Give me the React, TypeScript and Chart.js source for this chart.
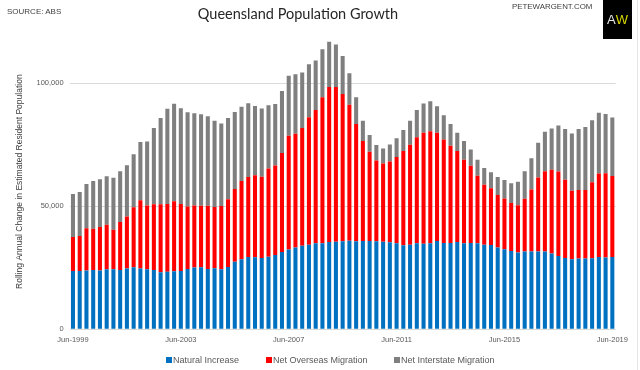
import React, { useEffect, useRef } from "react";
import { Chart, registerables } from "chart.js";

Chart.register(...registerables);

// Quarterly rolling annual change, Jun-1999 .. Jun-2019
const NATURAL = [
  23700, 23700, 23850, 24100, 23850, 24400, 24400, 24100, 24700, 25200,
  24700, 24400, 24100, 23200, 23400, 23600, 23700, 24500, 25100, 25200,
  24500, 24800, 24400, 25300, 27500, 28450, 29400, 29250, 29000, 29500,
  30200, 31400, 32400, 33200, 34000, 34400, 34950, 34950, 35500, 35600,
  35750, 36000, 35750, 35900, 35900, 35750, 35600, 35350, 34950, 34150,
  34400, 35000, 34800, 34950, 35900, 35100, 35100, 35500, 34950, 35100,
  34950, 34400, 34280, 33200, 32520, 31840, 31170, 31570, 31570, 31570,
  31570, 30760, 29810, 29000, 28460, 28730, 28730, 28860, 29400, 29130, 29400,
];

const OVERSEAS = [
  13800, 14200, 17200, 16800, 17700, 18100, 16100, 19500, 21100, 24400,
  27700, 25900, 26700, 27600, 27500, 28400, 27200, 25400, 25200, 25000,
  25700, 24900, 25700, 27500, 29500, 31800, 32500, 33400, 33000, 35800,
  36400, 40200, 46300, 46300, 47800, 51800, 54200, 59300, 63000, 62900,
  59900, 55200, 47700, 40600, 36300, 32800, 31800, 32800, 35100, 38300,
  40600, 43000, 45100, 45500, 44000, 42000, 39500, 37000, 34000, 31400,
  27400, 24300, 23000, 21400, 20600, 19500, 19200, 21500, 25200, 30100,
  32700, 34100, 34300, 31800, 27800, 27900, 27900, 30900, 33900, 34300, 32900,
];

const INTERSTATE = [
  17500, 17900, 18000, 19400, 19400, 19700, 21100, 20600, 20900, 21500,
  23700, 26000, 31000, 35100, 38700, 39700, 38900, 38300, 37500, 37200,
  36400, 35000, 33500, 33100, 31300, 30200, 30000, 28100, 27700, 25700,
  25000, 25200, 24300, 24100, 22600, 21500, 20100, 19600, 18300, 17200,
  15400, 12800, 10800, 8200, 6800, 6300, 6100, 6900, 7600, 8500,
  9700, 11100, 11900, 12200, 10700, 9900, 8800, 7400, 7600, 6600,
  6600, 6800, 6500, 7300, 7600, 8000, 9600, 11200, 12700, 14100,
  16000, 16700, 18700, 20600, 23300, 24800, 25600, 25200, 24700, 24100, 23800,
];

const QUARTER_MONTHS = ["Jun", "Sep", "Dec", "Mar"];
const FIRST_YEAR = 1999;
const TICK_EVERY = 16;
const Y_TICKS = [0, 50000, 100000];
const SERIES_NAMES = ["Natural Increase", "Net Overseas Migration", "Net Interstate Migration"];
const SERIES_COLORS = ["#0070C0", "#FF0000", "#7F7F7F"];

const CATEGORIES = NATURAL.map(
  (_, i) => `${QUARTER_MONTHS[i % 4]}-${FIRST_YEAR + Math.floor((i + 1) / 4)}`
);

const FONT = "'Liberation Sans', Arial, sans-serif";

export default function App() {
  const ref = useRef<HTMLCanvasElement | null>(null);

  useEffect(() => {
    document.body.style.margin = "0";
    const canvas = ref.current;
    if (!canvas) return;
    const chart = new Chart(canvas, {
      type: "bar",
      data: {
        labels: CATEGORIES,
        datasets: [NATURAL, OVERSEAS, INTERSTATE].map((d, k) => ({
          label: SERIES_NAMES[k],
          data: d,
          backgroundColor: SERIES_COLORS[k],
          borderWidth: 0,
          barPercentage: 0.6,
          categoryPercentage: 1.0,
          stack: "s",
        })),
      },
      options: {
        responsive: false,
        animation: false,
        devicePixelRatio: 1,
        layout: { padding: { top: 34, right: 24.3, left: 0, bottom: 0 } },
        plugins: {
          legend: { display: false },
          title: { display: false },
          tooltip: { enabled: false },
        },
        scales: {
          x: {
            stacked: true,
            grid: { display: false, drawTicks: false },
            border: { display: false },
            ticks: {
              autoSkip: false,
              maxRotation: 0,
              minRotation: 0,
              padding: 6,
              color: "#595959",
              font: { family: FONT, size: 7.5 },
              callback: (v: any, i: number) => (i % TICK_EVERY === 0 ? CATEGORIES[i] : ""),
            },
            afterFit: (s: any) => {
              s.height = 40.7;
            },
          },
          y: {
            stacked: true,
            min: 0,
            max: 120000,
            afterBuildTicks: (s: any) => {
              s.ticks = Y_TICKS.map((v) => ({ value: v }));
            },
            grid: { color: "#d9d9d9", drawTicks: false, lineWidth: 1 },
            border: { display: false },
            ticks: {
              padding: 6,
              color: "#595959",
              font: { family: FONT, size: 7.5 },
              callback: (v: any) => Number(v).toLocaleString("en-US"),
            },
            title: {
              display: true,
              text: "Rolling Annual Change in Estimated Resident Population",
              color: "#404040",
              font: { family: FONT, size: 8.5 },
              padding: { top: 15, bottom: 0 },
            },
            afterFit: (s: any) => {
              s.width = 69.6;
            },
          },
        },
      },
    });
    return () => chart.destroy();
  }, []);

  const legendItems = [
    { box: 166, text: 173 },
    { box: 266, text: 273 },
    { box: 394, text: 401 },
  ];

  return (
    <div style={{ position: "relative", width: 640, height: 370, background: "#fff", overflow: "hidden" }}>
      <canvas ref={ref} width={640} height={370} style={{ position: "absolute", left: 0, top: 0 }} />
      <div
        style={{
          position: "absolute",
          left: 298,
          top: 7,
          transform: "translateX(-50%)",
          whiteSpace: "nowrap",
          fontFamily: "Lato, 'Liberation Sans', sans-serif",
          fontSize: 14.5,
          lineHeight: 1,
          color: "#262626",
        }}
      >
        Queensland Population Growth
      </div>
      <div style={{ position: "absolute", left: 7, top: 8, fontFamily: FONT, fontSize: 8, lineHeight: 1, color: "#404040", whiteSpace: "nowrap" }}>
        SOURCE: ABS
      </div>
      <div style={{ position: "absolute", left: 512, top: 3, fontFamily: FONT, fontSize: 7.9, lineHeight: 1, color: "#404040", whiteSpace: "nowrap" }}>
        PETEWARGENT.COM
      </div>
      <div
        style={{
          position: "absolute",
          left: 603,
          top: 0,
          width: 29,
          height: 39,
          background: "#000",
          display: "flex",
          alignItems: "center",
          justifyContent: "center",
          fontFamily: FONT,
          fontSize: 13,
          lineHeight: 1,
        }}
      >
        <span style={{ color: "#e8e8e8" }}>A</span>
        <span style={{ color: "#d8d800" }}>W</span>
      </div>
      <div style={{ position: "absolute", left: 637, top: 0, width: 1, height: 370, background: "#e6e6e6" }} />
      {legendItems.map((it, k) => (
        <React.Fragment key={k}>
          <div style={{ position: "absolute", left: it.box, top: 357, width: 6.3, height: 6.3, background: SERIES_COLORS[k] }} />
          <div
            style={{
              position: "absolute",
              left: it.text,
              top: 355.5,
              fontFamily: FONT,
              fontSize: 9,
              lineHeight: 1,
              color: "#595959",
              whiteSpace: "nowrap",
            }}
          >
            {SERIES_NAMES[k]}
          </div>
        </React.Fragment>
      ))}
    </div>
  );
}
